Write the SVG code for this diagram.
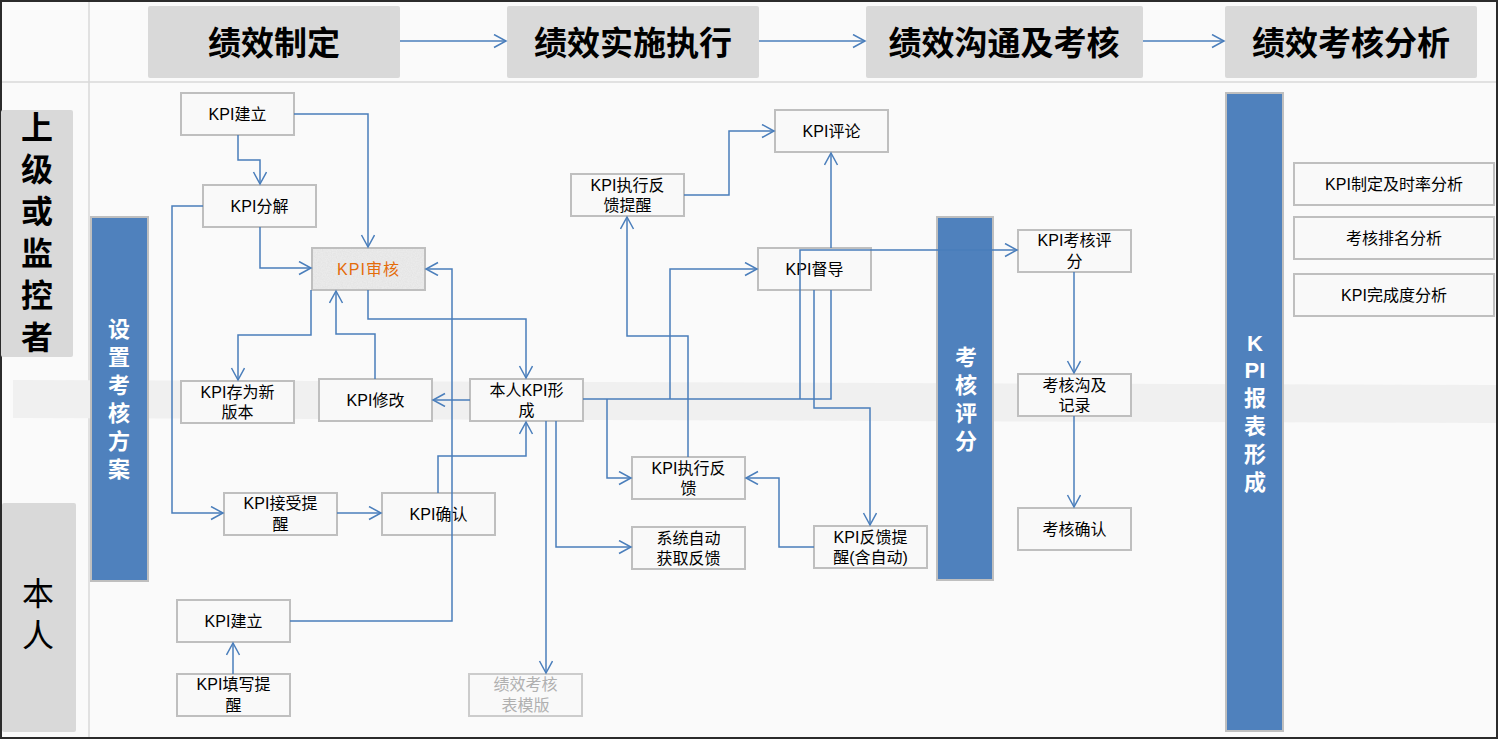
<svg xmlns="http://www.w3.org/2000/svg" width="1499" height="740" viewBox="0 0 1499 740">
<defs>
<style>
.hdr{fill:#d9d9d9}
.hdrt{font-family:"Noto Sans CJK SC","Noto Sans",sans-serif;font-size:33px;font-weight:bold;fill:#000;text-anchor:middle;dominant-baseline:central}
.lane{fill:#d9d9d9}
.lanet{font-family:"Liberation Sans","Noto Sans CJK SC",sans-serif;font-size:32px;fill:#000;text-anchor:middle;dominant-baseline:central}
.bar{fill:#4f81bd;stroke:#bfbfbf;stroke-width:2}
.bart{font-family:"Liberation Sans","Noto Sans CJK SC",sans-serif;font-size:22px;font-weight:bold;fill:#fff;text-anchor:middle;dominant-baseline:central}
.box{fill:#f9f9f9;stroke:#bfbfbf;stroke-width:2}
.t{font-family:"Liberation Sans","Noto Sans CJK SC",sans-serif;font-size:16px;fill:#000;text-anchor:middle;dominant-baseline:central}
.t.or{fill:#e46c0a}
.t.gr{fill:#b0b0b0}
.c{fill:none;stroke:#4a7ebb;stroke-width:1.5}
.ca{fill:none;stroke:#4a7ebb;stroke-width:1.5;marker-end:url(#arr)}
</style>
<marker id="arr" markerUnits="userSpaceOnUse" markerWidth="16" markerHeight="16" refX="13" refY="7" orient="auto">
<path d="M1,0.5 L13,7 L1,13.5" fill="none" stroke="#4a7ebb" stroke-width="1.5"/>
</marker>
<filter id="noise" x="0" y="0" width="100%" height="100%">
<feTurbulence type="fractalNoise" baseFrequency="0.8" numOctaves="3" result="n"/>
<feColorMatrix in="n" type="matrix" values="0 0 0 0 0.75  0 0 0 0 0.75  0 0 0 0 0.75  0 0 0 1.2 -0.3" result="m"/>
<feComposite in="m" in2="SourceGraphic" operator="in"/>
</filter>
</defs>
<rect x="1" y="1" width="1496" height="737" fill="#fafafa" stroke="#2b2b2b" stroke-width="2"/>
<line x1="2" y1="82" x2="1496" y2="82" stroke="#d9d9d9" stroke-width="1.5"/>
<line x1="89" y1="2" x2="89" y2="737" stroke="#d9d9d9" stroke-width="1.5"/>
<polygon points="13,380 1496,385 1496,423 13,418" fill="#f0f0f0"/>

<g id="header">
<g id="h1"><rect class="hdr" x="148" y="6" width="252" height="72" rx="2"/><text class="hdrt" x="274" y="41">绩效制定</text></g>
<g id="h2"><rect class="hdr" x="507" y="6" width="252" height="72" rx="2"/><text class="hdrt" x="633" y="41">绩效实施执行</text></g>
<g id="h3"><rect class="hdr" x="866" y="6" width="277" height="72" rx="2"/><text class="hdrt" x="1004" y="41">绩效沟通及考核</text></g>
<g id="h4"><rect class="hdr" x="1225" y="6" width="252" height="72" rx="2"/><text class="hdrt" x="1351" y="41">绩效考核分析</text></g>
</g>

<g id="lane-top"><rect class="lane" x="1" y="110" width="72" height="247" rx="2"/>
<text class="lanet" font-weight="bold" x="37" y="128">上</text>
<text class="lanet" font-weight="bold" x="37" y="170">级</text>
<text class="lanet" font-weight="bold" x="37" y="212">或</text>
<text class="lanet" font-weight="bold" x="37" y="254">监</text>
<text class="lanet" font-weight="bold" x="37" y="296">控</text>
<text class="lanet" font-weight="bold" x="37" y="338">者</text>
</g>
<g id="lane-self"><rect class="lane" x="2" y="503" width="74" height="229" rx="2"/>
<text class="lanet" x="38" y="594">本</text>
<text class="lanet" x="38" y="636">人</text>
</g>

<g id="bar1"><rect class="bar" x="91" y="217" width="57" height="364"/>
<text class="bart" x="119" y="329">设</text><text class="bart" x="119" y="357">置</text><text class="bart" x="119" y="385">考</text><text class="bart" x="119" y="413">核</text><text class="bart" x="119" y="441">方</text><text class="bart" x="119" y="469">案</text>
</g>
<g id="bar2"><rect class="bar" x="937" y="217" width="56" height="363"/>
<text class="bart" x="966" y="357">考</text><text class="bart" x="966" y="385">核</text><text class="bart" x="966" y="413">评</text><text class="bart" x="966" y="441">分</text>
</g>
<g id="bar3"><rect class="bar" x="1226" y="93" width="57" height="638"/>
<text class="bart" x="1255" y="343">K</text><text class="bart" x="1255" y="370">PI</text><text class="bart" x="1255" y="398">报</text><text class="bart" x="1255" y="426">表</text><text class="bart" x="1255" y="454">形</text><text class="bart" x="1255" y="482">成</text>
</g>

<g id="n-kpi-build-top"><rect class="box" x="181" y="93" width="113" height="42"/><text class="t" x="237.5" y="114">KPI建立</text></g>
<g id="n-kpi-decompose"><rect class="box" x="203" y="185" width="113" height="42"/><text class="t" x="259.5" y="206">KPI分解</text></g>
<g id="n-kpi-review"><rect class="box" x="312" y="248" width="113" height="42" style="fill:#ebebeb"/><rect x="313" y="249" width="111" height="40" fill="#e0e0e0" filter="url(#noise)"/><text class="t or" x="368.5" y="269" letter-spacing="1">KPI审核</text></g>
<g id="n-kpi-save"><rect class="box" x="181" y="381" width="113" height="42"/><text class="t" x="237.5" y="392">KPI存为新</text><text class="t" x="237.5" y="412">版本</text></g>
<g id="n-kpi-modify"><rect class="box" x="319" y="379" width="113" height="42"/><text class="t" x="375.5" y="400">KPI修改</text></g>
<g id="n-self-form"><rect class="box" x="470" y="379" width="113" height="42"/><text class="t" x="526.5" y="390">本人KPI形</text><text class="t" x="526.5" y="410">成</text></g>
<g id="n-kpi-accept"><rect class="box" x="224" y="493" width="113" height="42"/><text class="t" x="280.5" y="503">KPI接受提</text><text class="t" x="280.5" y="524">醒</text></g>
<g id="n-kpi-confirm"><rect class="box" x="382" y="493" width="113" height="42"/><text class="t" x="438.5" y="514">KPI确认</text></g>
<g id="n-kpi-build-bot"><rect class="box" x="177" y="600" width="113" height="42"/><text class="t" x="233.5" y="621">KPI建立</text></g>
<g id="n-kpi-fill"><rect class="box" x="177" y="674" width="113" height="42"/><text class="t" x="233.5" y="684">KPI填写提</text><text class="t" x="233.5" y="705">醒</text></g>
<g id="n-template"><rect class="box" x="469" y="674" width="113" height="42" style="stroke:#cccccc"/><text class="t gr" x="525.5" y="684">绩效考核</text><text class="t gr" x="525.5" y="705">表模版</text></g>
<g id="n-kpi-comment"><rect class="box" x="775" y="110" width="113" height="42"/><text class="t" x="831.5" y="131">KPI评论</text></g>
<g id="n-exec-fb-remind"><rect class="box" x="571" y="174" width="113" height="42"/><text class="t" x="627.5" y="185">KPI执行反</text><text class="t" x="627.5" y="205">馈提醒</text></g>
<g id="n-supervise"><rect class="box" x="758" y="248" width="113" height="42"/><text class="t" x="814.5" y="269">KPI督导</text></g>
<g id="n-exec-fb"><rect class="box" x="632" y="457" width="113" height="42"/><text class="t" x="688.5" y="468">KPI执行反</text><text class="t" x="688.5" y="488">馈</text></g>
<g id="n-auto-fb"><rect class="box" x="632" y="527" width="113" height="42"/><text class="t" x="688.5" y="538">系统自动</text><text class="t" x="688.5" y="558">获取反馈</text></g>
<g id="n-fb-remind"><rect class="box" x="814" y="526" width="113" height="42"/><text class="t" x="870.5" y="537">KPI反馈提</text><text class="t" x="870.5" y="557">醒(含自动)</text></g>
<g id="n-score"><rect class="box" x="1018" y="230" width="113" height="42"/><text class="t" x="1074.5" y="240">KPI考核评</text><text class="t" x="1074.5" y="261">分</text></g>
<g id="n-comm"><rect class="box" x="1018" y="374" width="113" height="42"/><text class="t" x="1074.5" y="385">考核沟及</text><text class="t" x="1074.5" y="405">记录</text></g>
<g id="n-confirm2"><rect class="box" x="1018" y="508" width="113" height="42"/><text class="t" x="1074.5" y="529">考核确认</text></g>
<g id="n-a1"><rect class="box" x="1294" y="163" width="200" height="42"/><text class="t" x="1394" y="184">KPI制定及时率分析</text></g>
<g id="n-a2"><rect class="box" x="1294" y="217" width="200" height="42"/><text class="t" x="1394" y="238">考核排名分析</text></g>
<g id="n-a3"><rect class="box" x="1294" y="274" width="200" height="42"/><text class="t" x="1394" y="295">KPI完成度分析</text></g>

<g id="connectors">
<path class="ca" d="M400,41 H506"/>
<path class="ca" d="M759,41 H865"/>
<path class="ca" d="M1143,41 H1224"/>
<path class="ca" d="M238,135 V160 H260 V184"/>
<path class="ca" d="M294,114 H368 V247"/>
<path class="ca" d="M260,227 V268 H311"/>
<path class="ca" d="M203,206 H172 V513 H223"/>
<path class="ca" d="M311,290 V335 H238 V380"/>
<path class="ca" d="M375,379 V334 H336 V291"/>
<path class="ca" d="M368,290 V319 H526 V378"/>
<path class="ca" d="M470,400 H433"/>
<path class="ca" d="M290,621 H452 V269 H426"/>
<path class="ca" d="M233,674 V643"/>
<path class="ca" d="M337,513 H381"/>
<path class="ca" d="M438,493 V456 H526 V422"/>
<path class="ca" d="M546,421 V673"/>
<path class="ca" d="M556,421 V547 H631"/>
<path class="c" d="M583,399 H831 V290"/>
<path class="ca" d="M607,399 V478 H631"/>
<path class="ca" d="M670,399 V269 H757"/>
<path class="ca" d="M800,399 V250 H1017"/>
<path class="ca" d="M831,248 V153"/>
<path class="ca" d="M814,290 V408 H870 V525"/>
<path class="ca" d="M688,457 V336 H627 V217"/>
<path class="ca" d="M684,195 H729 V131 H774"/>
<path class="ca" d="M814,547 H779 V478 H746"/>
<path class="ca" d="M1074,272 V373"/>
<path class="ca" d="M1074,416 V507"/>
</g>
</svg>
